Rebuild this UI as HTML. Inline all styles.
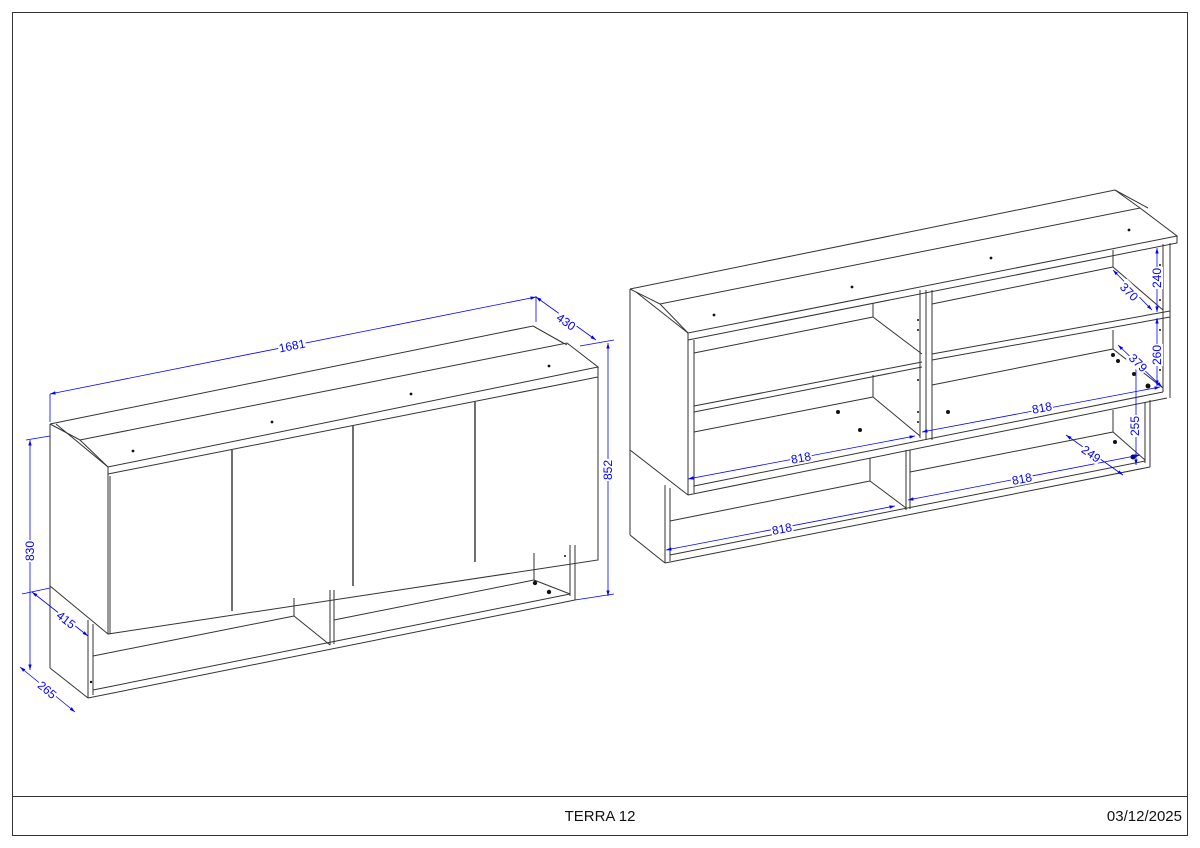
<!DOCTYPE html>
<html><head><meta charset="utf-8"><style>
html,body{margin:0;padding:0;background:#fff;}
svg{display:block;}
text{font-family:"Liberation Sans",sans-serif;}
</style></head><body>
<svg width="1200" height="848" viewBox="0 0 1200 848" xmlns="http://www.w3.org/2000/svg">
<defs>
<marker id="a" viewBox="0 0 10 10" refX="10" refY="5" markerWidth="7" markerHeight="7" orient="auto-start-reverse"><path d="M0,2 L10,5 L0,8 z" fill="#0000ff"/></marker>
</defs>
<rect x="12.5" y="12.5" width="1175" height="823" fill="none" stroke="#333" stroke-width="1"/>
<line x1="12" y1="796.5" x2="1188" y2="796.5" stroke="#333"/>
<text x="600" y="821" font-size="15" text-anchor="middle" fill="#111">TERRA 12</text>
<text x="1182" y="821" font-size="15" text-anchor="end" fill="#111">03/12/2025</text>

<g fill="none" stroke="#333" stroke-width="1">
<polyline points="50,424 533,326 567,345"/>
<polyline points="50,424 80,440 567,343 598,367 108,467 80,440"/>
<polyline points="56,424 108,467 108,474 598,377 598,367"/>
<line x1="533" y1="326" x2="563" y2="343"/>
<line x1="50" y1="424" x2="50" y2="668"/>
<line x1="50" y1="586" x2="108" y2="634"/>
<line x1="50" y1="668" x2="88" y2="698"/>
<polyline points="108,474 108,634 598,560 598,377"/>
<line x1="110" y1="476" x2="110" y2="634"/>
<line x1="232" y1="450" x2="232" y2="611" stroke="#222" stroke-width="1.3"/>
<line x1="353" y1="426" x2="353" y2="586" stroke="#222" stroke-width="1.3"/>
<line x1="475" y1="402" x2="475" y2="562" stroke="#222" stroke-width="1.3"/>
<line x1="88" y1="620" x2="88" y2="698"/>
<line x1="93" y1="624" x2="93" y2="695"/>
<line x1="88" y1="698" x2="575" y2="600"/>
<line x1="93" y1="690" x2="570" y2="594"/>
<line x1="93" y1="656" x2="294" y2="616"/>
<line x1="294" y1="598" x2="294" y2="616"/>
<line x1="294" y1="616" x2="330" y2="645"/>
<line x1="330" y1="590" x2="330" y2="645"/>
<line x1="334" y1="590" x2="334" y2="644"/>
<line x1="334" y1="620" x2="534" y2="580"/>
<line x1="534" y1="553" x2="534" y2="580"/>
<line x1="534" y1="580" x2="570" y2="594"/>
<line x1="570" y1="545" x2="570" y2="596"/>
<line x1="575" y1="545" x2="575" y2="600"/>

<polyline points="630,289 1115,190 1148,208"/>
<polyline points="630,289 660,304 1140,208 1177,236 688,333 660,304"/>
<polyline points="688,333 688,340 1177,243 1177,236"/>
<line x1="1115" y1="190" x2="1140" y2="208"/>
<line x1="630" y1="289" x2="630" y2="535"/>
<line x1="636" y1="292" x2="688" y2="333"/>
<line x1="630" y1="450" x2="688" y2="495"/>
<line x1="630" y1="535" x2="665" y2="563"/>
<line x1="688" y1="340" x2="688" y2="495"/>
<line x1="694" y1="340" x2="694" y2="493"/>
<line x1="688" y1="495" x2="1167" y2="398"/>
<line x1="694" y1="486" x2="1163" y2="392"/>
<line x1="1163" y1="244" x2="1163" y2="392"/>
<line x1="1170" y1="243" x2="1170" y2="398"/>
<line x1="694" y1="353" x2="873" y2="317"/>
<line x1="873" y1="303" x2="873" y2="317"/>
<line x1="873" y1="317" x2="922" y2="354"/>
<line x1="694" y1="406" x2="922" y2="362"/>
<line x1="694" y1="412" x2="922" y2="367"/>
<line x1="694" y1="432" x2="873" y2="397"/>
<line x1="873" y1="375" x2="873" y2="397"/>
<line x1="873" y1="397" x2="920" y2="436"/>
<line x1="920" y1="290" x2="920" y2="438"/>
<line x1="926" y1="290" x2="926" y2="440"/>
<line x1="932" y1="290" x2="932" y2="440"/>
<line x1="932" y1="304" x2="1113" y2="267"/>
<line x1="1113" y1="250" x2="1113" y2="267"/>
<line x1="1113" y1="267" x2="1163" y2="310"/>
<line x1="932" y1="354" x2="1170" y2="311"/>
<line x1="932" y1="360" x2="1170" y2="317"/>
<line x1="932" y1="385" x2="1113" y2="349"/>
<line x1="1113" y1="330" x2="1113" y2="349"/>
<line x1="1113" y1="349" x2="1163" y2="388"/>
<line x1="665" y1="485" x2="665" y2="563"/>
<line x1="670" y1="488" x2="670" y2="561"/>
<line x1="665" y1="563" x2="1150" y2="467"/>
<line x1="670" y1="555" x2="1145" y2="461"/>
<line x1="670" y1="521" x2="870" y2="481"/>
<line x1="870" y1="458" x2="870" y2="481"/>
<line x1="870" y1="481" x2="906" y2="508"/>
<line x1="906" y1="450" x2="906" y2="510"/>
<line x1="910" y1="450" x2="910" y2="509"/>
<line x1="910" y1="472" x2="1113" y2="432"/>
<line x1="1113" y1="410" x2="1113" y2="432"/>
<line x1="1113" y1="432" x2="1145" y2="460"/>
<line x1="1145" y1="402" x2="1145" y2="463"/>
<line x1="1150" y1="400" x2="1150" y2="467"/>
</g>

<g fill="#111">
<circle cx="133" cy="451" r="1.4"/><circle cx="272" cy="422" r="1.4"/><circle cx="411" cy="394" r="1.4"/><circle cx="549" cy="366" r="1.4"/>
<circle cx="535" cy="583" r="2.2"/><circle cx="549" cy="592" r="2.2"/><circle cx="91" cy="682" r="1.2"/><circle cx="565" cy="556" r="1"/>
<circle cx="714" cy="315" r="1.4"/><circle cx="852" cy="287" r="1.4"/><circle cx="991" cy="258" r="1.4"/><circle cx="1129" cy="230" r="1.4"/>
<circle cx="838" cy="412" r="2"/><circle cx="860" cy="430" r="2"/><circle cx="948" cy="412" r="2"/>
<circle cx="1113" cy="355" r="2"/><circle cx="1118" cy="361" r="2"/><circle cx="1134" cy="374" r="2"/><circle cx="1148" cy="386" r="2.5"/>
<circle cx="1115" cy="442" r="2"/><circle cx="1133" cy="457" r="2.5"/>
<circle cx="918" cy="320" r="1"/><circle cx="918" cy="330" r="1"/><circle cx="918" cy="380" r="1"/><circle cx="918" cy="412" r="1"/><circle cx="918" cy="422" r="1"/>
<circle cx="1160" cy="265" r="1"/><circle cx="1160" cy="300" r="1"/><circle cx="1160" cy="330" r="1"/><circle cx="1160" cy="370" r="1"/>
</g>

<g stroke="#0000ff" stroke-width="0.8" fill="none">
<line x1="50" y1="394" x2="50" y2="422"/>
<line x1="536" y1="296" x2="536" y2="322"/>
<line x1="50" y1="394" x2="536" y2="297" marker-start="url(#a)" marker-end="url(#a)"/>
<line x1="536" y1="297" x2="596" y2="340" marker-start="url(#a)" marker-end="url(#a)"/>
<line x1="580" y1="346" x2="614" y2="340"/>
<line x1="575" y1="600" x2="614" y2="594"/>
<line x1="608" y1="343" x2="608" y2="596" marker-start="url(#a)" marker-end="url(#a)"/>
<line x1="26" y1="440" x2="50" y2="436"/>
<line x1="30" y1="440" x2="30" y2="670" marker-start="url(#a)" marker-end="url(#a)"/>
<line x1="22" y1="594" x2="50" y2="588"/>
<line x1="32" y1="592" x2="88" y2="636" marker-start="url(#a)" marker-end="url(#a)"/>
<line x1="20" y1="667" x2="75" y2="712" marker-start="url(#a)" marker-end="url(#a)"/>
<line x1="1157" y1="248" x2="1157" y2="312" marker-start="url(#a)" marker-end="url(#a)"/>
<line x1="1113" y1="270" x2="1152" y2="310" marker-start="url(#a)" marker-end="url(#a)"/>
<line x1="1157" y1="318" x2="1157" y2="386" marker-start="url(#a)" marker-end="url(#a)"/>
<line x1="1118" y1="345" x2="1162" y2="387" marker-start="url(#a)" marker-end="url(#a)"/>
<line x1="922" y1="432" x2="1160" y2="387" marker-start="url(#a)" marker-end="url(#a)"/>
<line x1="688" y1="479" x2="915" y2="436" marker-start="url(#a)" marker-end="url(#a)"/>
<line x1="1136" y1="362" x2="1136" y2="465" marker-start="url(#a)" marker-end="url(#a)"/>
<line x1="1066" y1="435" x2="1123" y2="475" marker-start="url(#a)" marker-end="url(#a)"/>
<line x1="908" y1="500" x2="1140" y2="455" marker-start="url(#a)" marker-end="url(#a)"/>
<line x1="666" y1="550" x2="895" y2="506" marker-start="url(#a)" marker-end="url(#a)"/>
</g>
<g fill="#0000ff" font-size="12">
<g transform="translate(292,346) rotate(-11.4)"><rect x="-14" y="-8" width="28" height="14" fill="#fff"/><text text-anchor="middle" y="4">1681</text></g>
<g transform="translate(566,322) rotate(35)"><rect x="-11" y="-8" width="22" height="14" fill="#fff"/><text text-anchor="middle" y="4">430</text></g>
<g transform="translate(608,470) rotate(-90)"><rect x="-11" y="-8" width="22" height="14" fill="#fff"/><text text-anchor="middle" y="4">852</text></g>
<g transform="translate(30,551) rotate(-90)"><rect x="-11" y="-8" width="22" height="14" fill="#fff"/><text text-anchor="middle" y="4">830</text></g>
<g transform="translate(66,620) rotate(38)"><rect x="-11" y="-8" width="22" height="14" fill="#fff"/><text text-anchor="middle" y="4">415</text></g>
<g transform="translate(47,690) rotate(40)"><rect x="-11" y="-8" width="22" height="14" fill="#fff"/><text text-anchor="middle" y="4">265</text></g>
<g transform="translate(1157,278) rotate(-90)"><rect x="-11" y="-8" width="22" height="14" fill="#fff"/><text text-anchor="middle" y="4">240</text></g>
<g transform="translate(1129,292) rotate(45)"><rect x="-11" y="-8" width="22" height="14" fill="#fff"/><text text-anchor="middle" y="4">370</text></g>
<g transform="translate(1157,355) rotate(-90)"><rect x="-11" y="-8" width="22" height="14" fill="#fff"/><text text-anchor="middle" y="4">260</text></g>
<g transform="translate(1138,363) rotate(44)"><rect x="-11" y="-8" width="22" height="14" fill="#fff"/><text text-anchor="middle" y="4">379</text></g>
<g transform="translate(1042,408) rotate(-10.7)"><rect x="-11" y="-8" width="22" height="14" fill="#fff"/><text text-anchor="middle" y="4">818</text></g>
<g transform="translate(801,458) rotate(-10.7)"><rect x="-11" y="-8" width="22" height="14" fill="#fff"/><text text-anchor="middle" y="4">818</text></g>
<g transform="translate(1135,426) rotate(-90)"><rect x="-11" y="-8" width="22" height="14" fill="#fff"/><text text-anchor="middle" y="4">255</text></g>
<g transform="translate(1091,454) rotate(35)"><rect x="-11" y="-8" width="22" height="14" fill="#fff"/><text text-anchor="middle" y="4">249</text></g>
<g transform="translate(1022,479) rotate(-11)"><rect x="-11" y="-8" width="22" height="14" fill="#fff"/><text text-anchor="middle" y="4">818</text></g>
<g transform="translate(782,529) rotate(-11)"><rect x="-11" y="-8" width="22" height="14" fill="#fff"/><text text-anchor="middle" y="4">818</text></g>
</g>
</svg>
</body></html>
